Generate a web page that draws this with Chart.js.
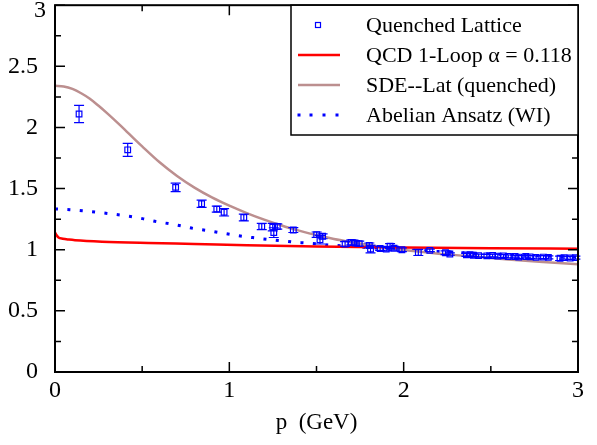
<!DOCTYPE html>
<html><head><meta charset="utf-8">
<script src="https://cdn.jsdelivr.net/npm/chart.js@4"></script>
<style>html,body{margin:0;padding:0;background:#fff}#wrap{width:597px;height:445px}</style>
</head><body><div id="wrap"><canvas id="c" width="597" height="445"></canvas></div>
<script>
// ---- data ----
const latticeP = [0.138,0.417,0.692,0.841,0.928,0.970,1.083,1.186,1.249,1.255,1.275,1.367,1.501,1.520,1.535,1.664,1.700,1.721,1.745,1.803,1.810,1.865,1.900,1.922,1.945,1.990,2.084,2.150,2.240,2.265,2.360,2.381,2.400,2.430,2.477,2.510,2.540,2.572,2.600,2.639,2.660,2.700,2.725,2.760,2.802,2.830,2.897,2.920,2.955,2.985];
const latticeV = [2.11,1.817,1.51,1.376,1.332,1.306,1.264,1.190,1.185,1.14,1.190,1.161,1.123,1.082,1.110,1.047,1.06,1.055,1.050,1.035,1.005,1.010,1.005,1.030,1.012,1.000,0.978,0.995,0.975,0.965,0.958,0.960,0.955,0.952,0.950,0.953,0.948,0.950,0.945,0.945,0.940,0.945,0.942,0.938,0.940,0.938,0.930,0.935,0.932,0.935];
const latticeErr = [0.07,0.053,0.034,0.03,0.025,0.03,0.028,0.025,0.03,0.04,0.022,0.02,0.022,0.035,0.02,0.02,0.02,0.02,0.02,0.02,0.03,0.015,0.015,0.02,0.015,0.015,0.025,0.01,0.015,0.01,0.012,0.012,0.012,0.012,0.012,0.012,0.015,0.012,0.012,0.012,0.012,0.012,0.012,0.012,0.012,0.012,0.018,0.012,0.012,0.012];
const qcdP = [0,0.008,0.02,0.045,0.08,0.115,0.27,0.535,0.8,1.1,1.5,2.0,2.5,3.0];
const qcdV = [1.14,1.12,1.10,1.09,1.083,1.078,1.066,1.055,1.047,1.037,1.027,1.018,1.012,1.008];
const sdeP = [0,0.05,0.1,0.15,0.2,0.25,0.3,0.35,0.4,0.45,0.5,0.6,0.7,0.8,0.9,1.0,1.1,1.2,1.3,1.4,1.5,1.6,1.7,1.8,1.9,2.0,2.2,2.4,2.6,2.8,3.0];
const sdeV = [2.341,2.335,2.315,2.28,2.235,2.177,2.115,2.05,1.983,1.913,1.845,1.715,1.603,1.508,1.428,1.360,1.300,1.246,1.198,1.156,1.118,1.088,1.062,1.038,1.016,0.997,0.968,0.944,0.920,0.900,0.882];
const wiP = [0,0.086,0.157,0.229,0.300,0.373,0.444,0.513,0.584,0.655,0.727,0.794,0.870,0.941,1.010,1.080,1.153,1.224,1.296,1.367,1.440,1.583,1.8,2.0,2.2,2.5,2.8,3.0];
const wiV = [1.334,1.327,1.319,1.308,1.297,1.284,1.270,1.251,1.229,1.213,1.194,1.174,1.158,1.141,1.125,1.109,1.096,1.084,1.074,1.063,1.055,1.038,1.018,1.000,0.985,0.965,0.948,0.94];
const xTickLabels = ['0','1','2','3'];
const yTickLabels = ['0','0.5','1','1.5','2','2.5','3'];
const xMinor = [0.5,1.5,2.5];
const yMinor = [0.25,0.75,1.25,1.75,2.25,2.75];
const legendLabels = ['Quenched Lattice','QCD 1-Loop \u03b1 = 0.118','SDE--Lat (quenched)','Abelian Ansatz (WI)'];
const xTitle = 'p  (GeV)';

const FONT = '"Liberation Serif", "Times New Roman", serif';
const BLUE = '#0000ff', RED = '#ff0000', BROWN = '#bc8f8f';
const zip = (a,b) => a.map((x,i)=>({x:x,y:b[i]}));
const topLabel = yTickLabels[yTickLabels.length-1];

const framePlugin = {
  id:'frame',
  afterDatasetsDraw(chart){
    const ctx = chart.ctx, xs = chart.scales.x, ys = chart.scales.y, a = chart.chartArea;
    ctx.save();
    ctx.strokeStyle = BLUE; ctx.lineWidth = 1.2;
    latticeP.forEach((p,i)=>{
      const px = xs.getPixelForValue(p);
      const y1 = ys.getPixelForValue(latticeV[i]+latticeErr[i]);
      const y2 = ys.getPixelForValue(latticeV[i]-latticeErr[i]);
      ctx.beginPath();
      ctx.moveTo(px,y1); ctx.lineTo(px,y2);
      ctx.moveTo(px-5,y1); ctx.lineTo(px+5,y1);
      ctx.moveTo(px-5,y2); ctx.lineTo(px+5,y2);
      ctx.stroke();
    });
    ctx.strokeStyle = '#000'; ctx.lineWidth = 2;
    ctx.strokeRect(a.left, a.top, a.right-a.left, a.bottom-a.top);
    ctx.lineWidth = 1.5;
    ctx.beginPath();
    const xt = (v,len)=>{const px=xs.getPixelForValue(v);ctx.moveTo(px,a.bottom);ctx.lineTo(px,a.bottom-len);ctx.moveTo(px,a.top);ctx.lineTo(px,a.top+len);};
    const yt = (v,len)=>{const py=ys.getPixelForValue(v);ctx.moveTo(a.left,py);ctx.lineTo(a.left+len,py);ctx.moveTo(a.right,py);ctx.lineTo(a.right-len,py);};
    xTickLabels.forEach(t=>xt(parseFloat(t),10));
    xMinor.forEach(v=>xt(v,6));
    yTickLabels.forEach(t=>yt(parseFloat(t),10));
    yMinor.forEach(v=>yt(v,6));
    ctx.stroke();
    // top y label, kept inside the canvas
    ctx.font='24px '+FONT; ctx.fillStyle='#000'; ctx.textAlign='right'; ctx.textBaseline='middle';
    ctx.fillText(topLabel, a.left-9, ys.getPixelForValue(parseFloat(topLabel))+6);
    // legend
    const L=291,T=a.top,R=a.right,B=135;
    ctx.fillStyle='#fff'; ctx.fillRect(L,T,R-L,B-T);
    ctx.strokeStyle='#000'; ctx.lineWidth=1.5; ctx.strokeRect(L,T,R-L,B-T);
    const rows=[25,55,85,115];
    ctx.font='22px '+FONT; ctx.fillStyle='#000'; ctx.textBaseline='middle'; ctx.textAlign='left';
    legendLabels.forEach((t,i)=>ctx.fillText(t,366,rows[i]+1));
    ctx.strokeStyle=BLUE; ctx.lineWidth=1.2; ctx.strokeRect(315.5,rows[0]-2.5,5,5);
    ctx.lineCap='butt';
    ctx.strokeStyle=RED; ctx.lineWidth=2.5; ctx.beginPath(); ctx.moveTo(298,rows[1]); ctx.lineTo(340,rows[1]); ctx.stroke();
    ctx.strokeStyle=BROWN; ctx.beginPath(); ctx.moveTo(298,rows[2]); ctx.lineTo(340,rows[2]); ctx.stroke();
    ctx.fillStyle=BLUE; [299,311,324,337].forEach(x=>ctx.fillRect(x-1.5,rows[3]-1.5,3,3));
    ctx.restore();
  }
};

new Chart(document.getElementById('c'), {
  type:'line',
  data:{datasets:[
    {label:legendLabels[0], data:zip(latticeP,latticeV), showLine:false, pointStyle:'rect', pointRadius:4, borderColor:BLUE, backgroundColor:'rgba(0,0,0,0)', pointBorderWidth:1.2},
    {label:legendLabels[1], data:zip(qcdP,qcdV), borderColor:RED, borderWidth:2.5, pointRadius:0, cubicInterpolationMode:'monotone', fill:false},
    {label:legendLabels[2], data:zip(sdeP,sdeV), borderColor:BROWN, borderWidth:2.5, pointRadius:0, cubicInterpolationMode:'monotone', fill:false},
    {label:legendLabels[3], data:zip(wiP,wiV), borderColor:BLUE, borderWidth:3, borderDash:[3,9.4], borderCapStyle:'butt', pointRadius:0, cubicInterpolationMode:'monotone', fill:false}
  ]},
  options:{
    responsive:false, animation:false,
    layout:{padding:{top:5,right:19,left:0,bottom:0}},
    plugins:{legend:{display:false}, tooltip:{enabled:false}},
    scales:{
      x:{type:'linear', min:0, max:3,
         afterBuildTicks:s=>{s.ticks=xTickLabels.map(t=>({value:parseFloat(t)}));},
         ticks:{callback:(v)=>xTickLabels.find(t=>parseFloat(t)===v)||'', font:{family:FONT,size:24}, color:'#000', padding:-4, maxRotation:0},
         grid:{display:false}, border:{display:false},
         title:{display:true, text:xTitle, font:{family:FONT,size:23}, color:'#000', padding:{top:0,bottom:8}},
         afterFit:s=>{s.height=73; s.paddingLeft=0; s.paddingRight=0;}
      },
      y:{type:'linear', min:0, max:3,
         afterBuildTicks:s=>{s.ticks=yTickLabels.map(t=>({value:parseFloat(t)}));},
         ticks:{callback:(v)=>(v===parseFloat(topLabel)?'':(yTickLabels.find(t=>parseFloat(t)===v)||'')), font:{family:FONT,size:24}, color:'#000', padding:9},
         grid:{display:false}, border:{display:false},
         afterFit:s=>{s.width=55; s.paddingTop=0; s.paddingBottom=0;}
      }
    }
  },
  plugins:[framePlugin]
});
</script></body></html>
